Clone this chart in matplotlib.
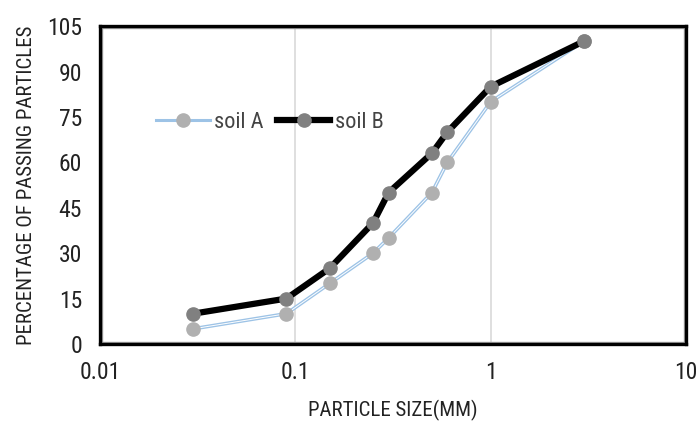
import matplotlib.pyplot as plt
from matplotlib.patches import Rectangle

plt.rcParams['font.family'] = ['Roboto Condensed', 'DejaVu Sans']

# sieve sizes (mm) and percent passing
size_mm = [0.03, 0.09, 0.15, 0.25, 0.3, 0.5, 0.6, 1, 3]
soil_a = [5, 10, 20, 30, 35, 50, 60, 80, 100]
soil_b = [10, 15, 25, 40, 50, 63, 70, 85, 100]

fig = plt.figure(figsize=(6.96, 4.21), dpi=100)
ax = fig.add_axes([0.1437, 0.183, 0.842, 0.755])

# soil A: light blue double line
ax.plot(size_mm, soil_a, color='#9DC3E6', lw=2.6, zorder=3)
ax.plot(size_mm, soil_a, color='white', lw=0.7, zorder=3)
ax.plot(size_mm, soil_a, ls='none', marker='o', ms=9.5, color='#B0B0B0', zorder=4)
# soil B: thick black line
ax.plot(size_mm, soil_b, color='black', lw=4.5, zorder=5)
ax.plot(size_mm, soil_b, ls='none', marker='o', ms=9.5, color='#808080', zorder=6)

ax.set_xscale('log')
ax.set_xlim(0.01, 10)
ax.set_ylim(0, 105)
ax.set_xticks([0.01, 0.1, 1, 10])
ax.set_xticklabels(['0.01', '0.1', '1', '10'])
ax.set_yticks(range(0, 106, 15))
ax.minorticks_off()
ax.tick_params(length=0, labelsize=17, colors='#222222')
ax.tick_params(axis='x', pad=12)
ax.tick_params(axis='y', pad=13)
ax.grid(axis='x', color='#D9D9D9', lw=1.2)
ax.set_axisbelow(True)

for s in ax.spines.values():
    s.set_color('black')
    s.set_linewidth(2.4)
ax.add_patch(Rectangle((0.004, 0.006), 0.992, 0.988, transform=ax.transAxes,
                       fill=False, ec='#A0A0A0', lw=1.0, zorder=2, clip_on=False))

ax.set_xlabel('PARTICLE SIZE(MM)', fontsize=15, color='#222222', labelpad=12)
ax.set_ylabel('PERCENTAGE OF PASSING PARTICLES', fontsize=15, color='#222222', labelpad=8)

# legend handles
ha = ax.plot([], [], color='#9DC3E6', lw=2.2, marker='o', ms=9.5,
             mfc='#B0B0B0', mec='#B0B0B0')[0]
hb = ax.plot([], [], color='black', lw=4.5, marker='o', ms=9.5,
             mfc='#808080', mec='#808080')[0]
fig.legend([ha, hb], ['soil A', 'soil B'], ncol=2, frameon=False,
           loc='center', bbox_to_anchor=(0.388, 0.71), fontsize=16,
           handlelength=2.4, handletextpad=0.2, columnspacing=0.6,
           labelcolor='#444444')

fig.savefig('out.png', dpi=100)
